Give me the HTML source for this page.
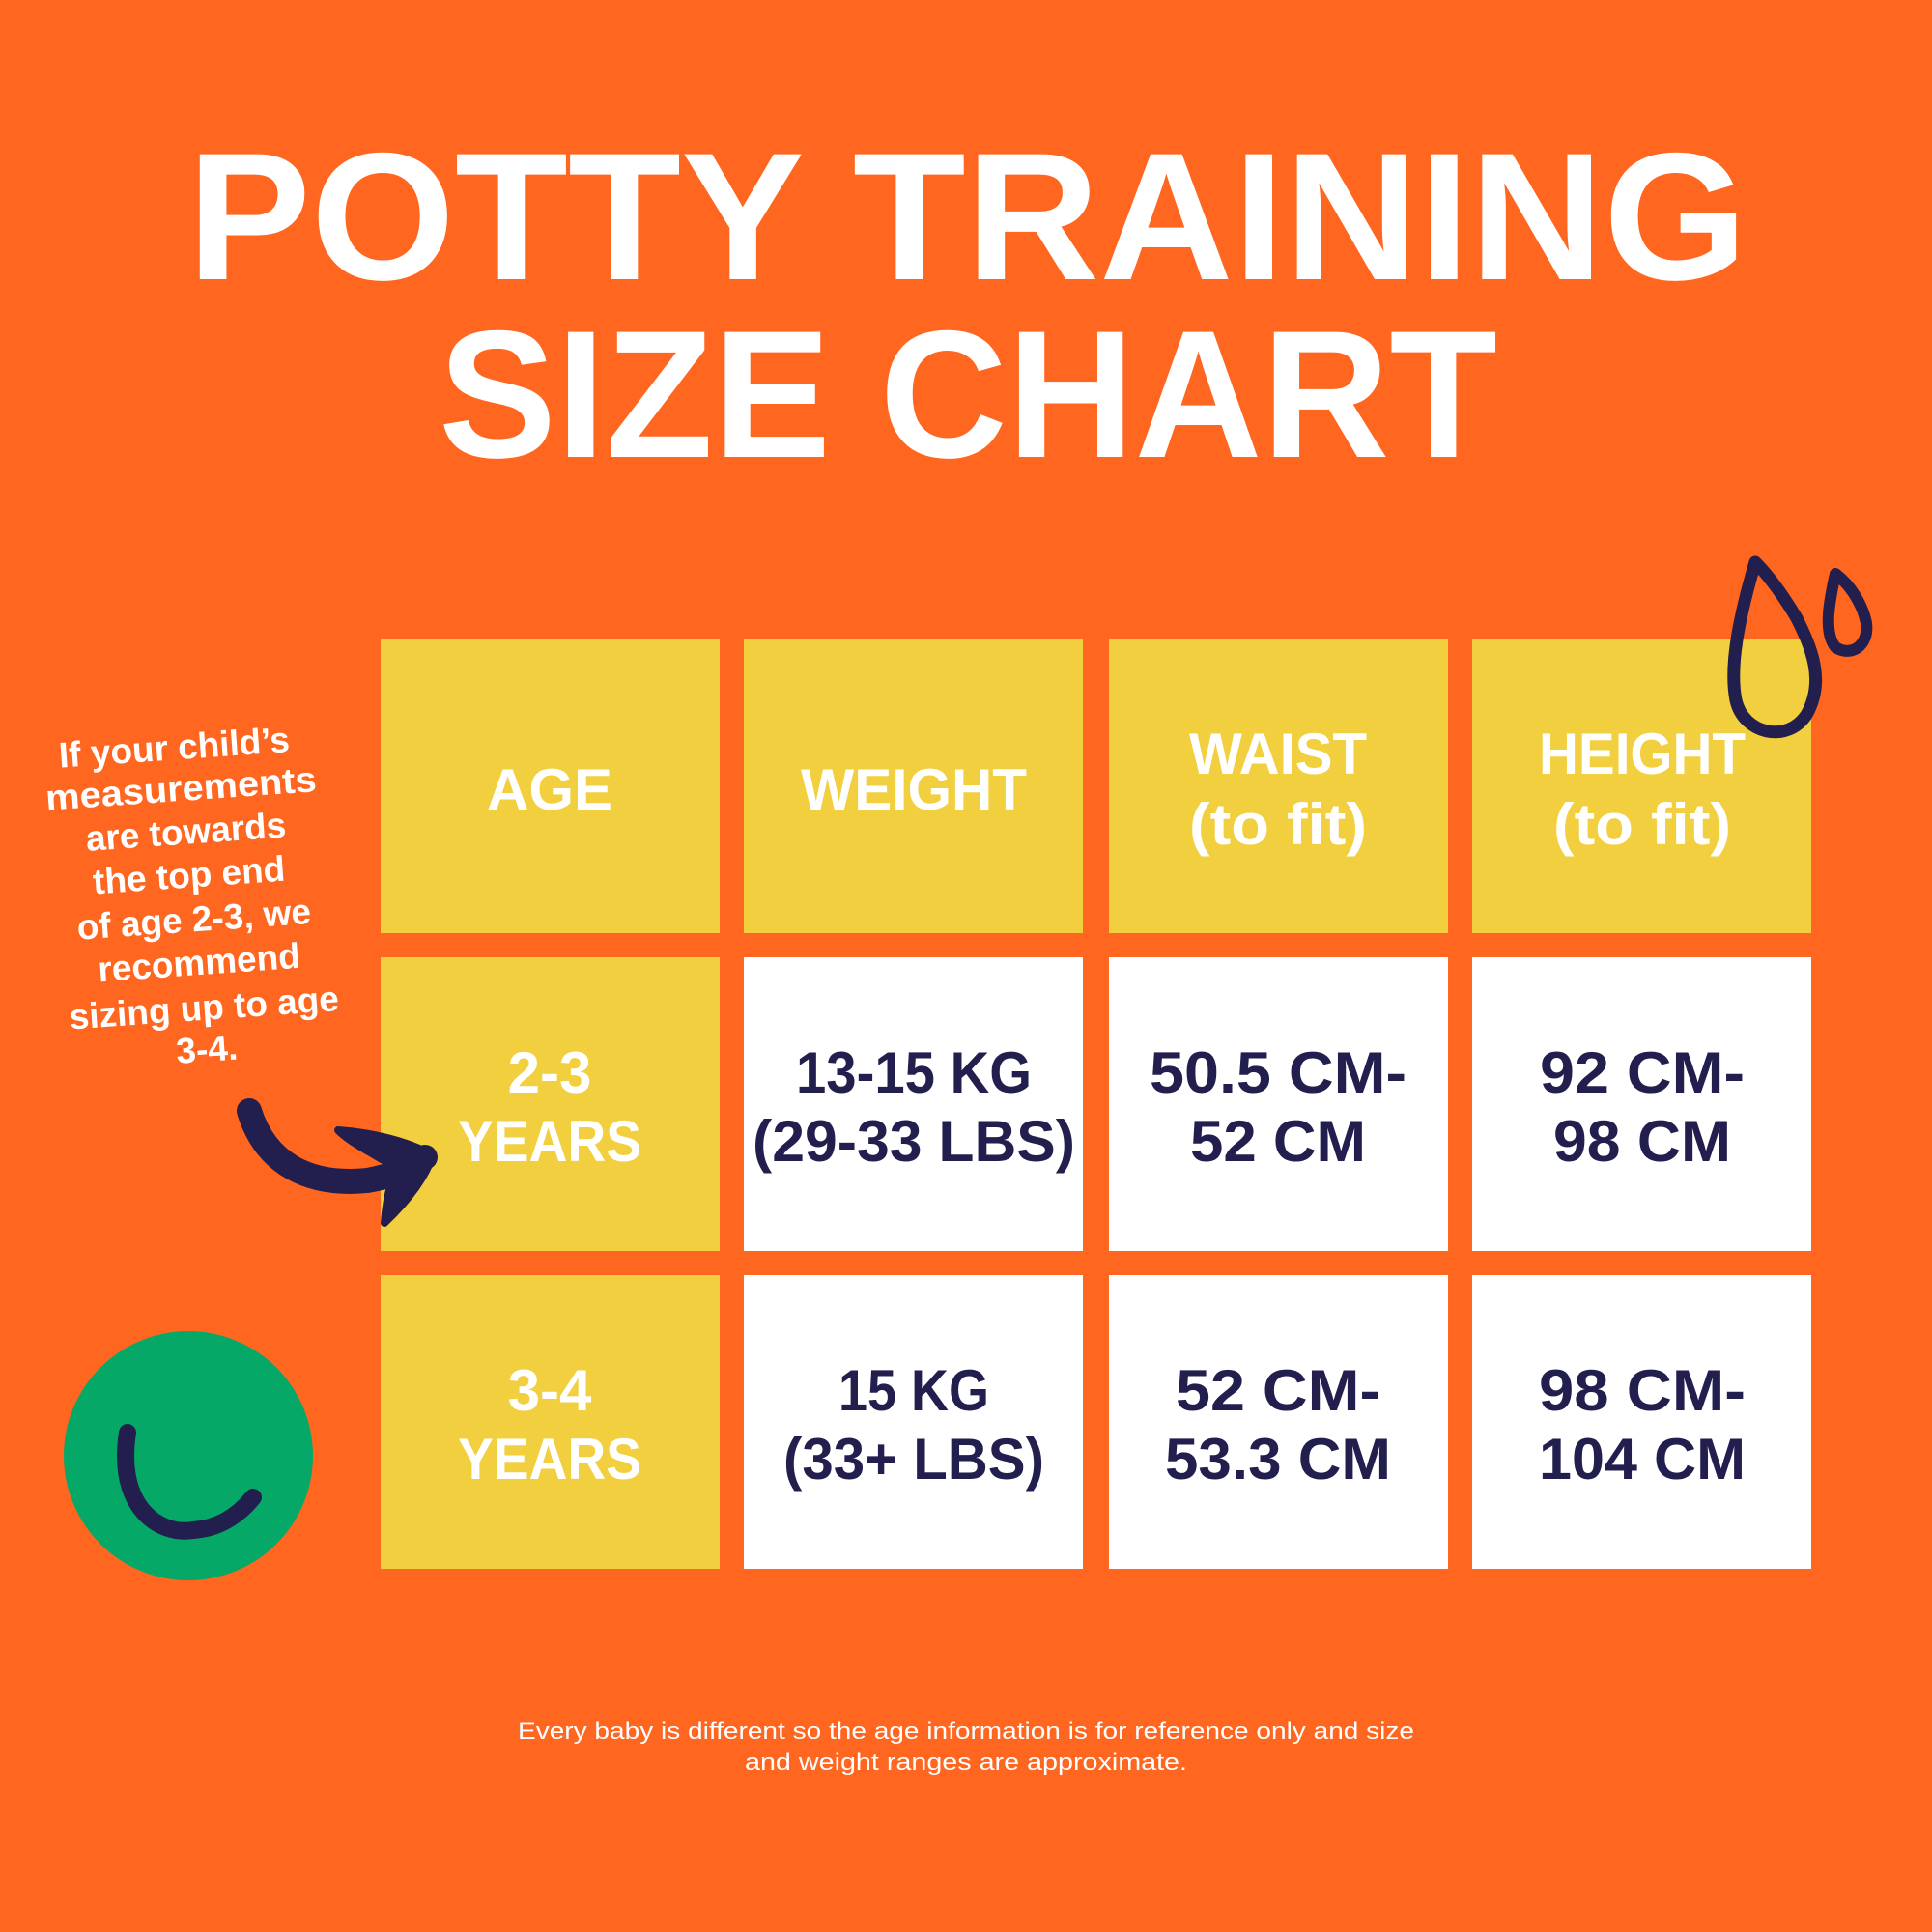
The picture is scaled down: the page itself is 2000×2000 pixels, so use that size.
<!DOCTYPE html>
<html><head><meta charset="utf-8"><style>
html,body{margin:0;padding:0;background:#FF6620;}
svg{display:block;}
text{font-family:"Liberation Sans",sans-serif;font-weight:bold;}
</style></head><body>
<svg width="2000" height="2000" viewBox="0 0 2000 2000" xmlns="http://www.w3.org/2000/svg">
<rect width="2000" height="2000" fill="#FF6620"/>
<g fill="#fff" text-anchor="start">
<text x="194" y="289" font-size="188" textLength="1615" lengthAdjust="spacingAndGlyphs">POTTY TRAINING</text>
<text x="454" y="473" font-size="188" textLength="1096" lengthAdjust="spacingAndGlyphs">SIZE CHART</text>
</g>
<g fill="#F2CF3E">
<rect x="394" y="661" width="351" height="305"/><rect x="770" y="661" width="351" height="305"/>
<rect x="1148" y="661" width="351" height="305"/><rect x="1524" y="661" width="351" height="305"/>
<rect x="394" y="991" width="351" height="304"/><rect x="394" y="1320" width="351" height="304"/>
</g>
<g fill="#fff">
<rect x="770" y="991" width="351" height="304"/><rect x="1148" y="991" width="351" height="304"/><rect x="1524" y="991" width="351" height="304"/>
<rect x="770" y="1320" width="351" height="304"/><rect x="1148" y="1320" width="351" height="304"/><rect x="1524" y="1320" width="351" height="304"/>
</g>
<g fill="#fff" font-size="60" text-anchor="middle">
<text x="569" y="838">AGE</text>
<text x="946" y="838" textLength="234" lengthAdjust="spacingAndGlyphs">WEIGHT</text>
<text x="1323" y="801" textLength="184" lengthAdjust="spacingAndGlyphs">WAIST</text>
<text x="1323" y="874" textLength="184" lengthAdjust="spacingAndGlyphs">(to fit)</text>
<text x="1700" y="801" textLength="214" lengthAdjust="spacingAndGlyphs">HEIGHT</text>
<text x="1700" y="874" textLength="184" lengthAdjust="spacingAndGlyphs">(to fit)</text>
<text x="569" y="1131">2-3</text>
<text x="569" y="1202" textLength="190" lengthAdjust="spacingAndGlyphs">YEARS</text>
<text x="569" y="1460">3-4</text>
<text x="569" y="1531" textLength="190" lengthAdjust="spacingAndGlyphs">YEARS</text>
</g>
<g fill="#221F4E" font-size="60" text-anchor="middle">
<text x="946" y="1131" textLength="244" lengthAdjust="spacingAndGlyphs">13-15 KG</text>
<text x="946" y="1202" textLength="334" lengthAdjust="spacingAndGlyphs">(29-33 LBS)</text>
<text x="1323" y="1131" textLength="266" lengthAdjust="spacingAndGlyphs">50.5 CM-</text>
<text x="1323" y="1202" textLength="182" lengthAdjust="spacingAndGlyphs">52 CM</text>
<text x="1700" y="1131" textLength="212" lengthAdjust="spacingAndGlyphs">92 CM-</text>
<text x="1700" y="1202" textLength="184" lengthAdjust="spacingAndGlyphs">98 CM</text>
<text x="946" y="1460" textLength="156" lengthAdjust="spacingAndGlyphs">15 KG</text>
<text x="946" y="1531" textLength="270" lengthAdjust="spacingAndGlyphs">(33+ LBS)</text>
<text x="1323" y="1460" textLength="212" lengthAdjust="spacingAndGlyphs">52 CM-</text>
<text x="1323" y="1531" textLength="234" lengthAdjust="spacingAndGlyphs">53.3 CM</text>
<text x="1700" y="1460" textLength="214" lengthAdjust="spacingAndGlyphs">98 CM-</text>
<text x="1700" y="1531" textLength="214" lengthAdjust="spacingAndGlyphs">104 CM</text>
</g>
<g fill="#fff" font-size="37" text-anchor="middle" transform="rotate(-4 205 940)">
<text x="192" y="785">If your child’s</text>
<text x="196" y="828" textLength="281" lengthAdjust="spacingAndGlyphs">measurements</text>
<text x="198" y="873">are towards</text>
<text x="198" y="918">the top end</text>
<text x="200" y="964">of age 2-3, we</text>
<text x="202" y="1009">recommend</text>
<text x="204" y="1056">sizing up to age</text>
<text x="204" y="1099">3-4.</text>
</g>
<path d="M258 1150 C275 1205 320 1228 380 1222 C405 1218 420 1210 440 1198" fill="none" stroke="#221F4E" stroke-width="26" stroke-linecap="round"/>
<path d="M350 1170 C380 1172 420 1180 448 1196 C440 1220 420 1245 398 1266 C400 1240 405 1222 410 1210 C390 1195 365 1185 350 1170 Z" fill="#221F4E" stroke="#221F4E" stroke-width="8" stroke-linejoin="round"/>
<circle cx="195" cy="1507" r="129" fill="#05A866"/>
<path d="M132 1483 C120 1560 165 1590 200 1584 C230 1582 250 1565 262 1550" fill="none" stroke="#221F4E" stroke-width="18" stroke-linecap="round"/>
<path d="M1817 582 C1800 640 1790 690 1797 725 C1805 760 1850 770 1870 740 C1890 705 1875 670 1860 640 C1845 615 1830 595 1817 582 Z" fill="none" stroke="#221F4E" stroke-width="13" stroke-linejoin="round"/>
<path d="M1900 594 C1893 625 1888 655 1900 670 C1915 680 1935 670 1932 645 C1928 625 1915 605 1900 594 Z" fill="none" stroke="#221F4E" stroke-width="12" stroke-linejoin="round"/>
<g fill="#fff" font-size="24" text-anchor="middle">
<text x="1000" y="1800" textLength="928" lengthAdjust="spacingAndGlyphs" style="font-weight:normal">Every baby is different so the age information is for reference only and size</text>
<text x="1000" y="1832" textLength="458" lengthAdjust="spacingAndGlyphs" style="font-weight:normal">and weight ranges are approximate.</text>
</g>
</svg>
</body></html>
